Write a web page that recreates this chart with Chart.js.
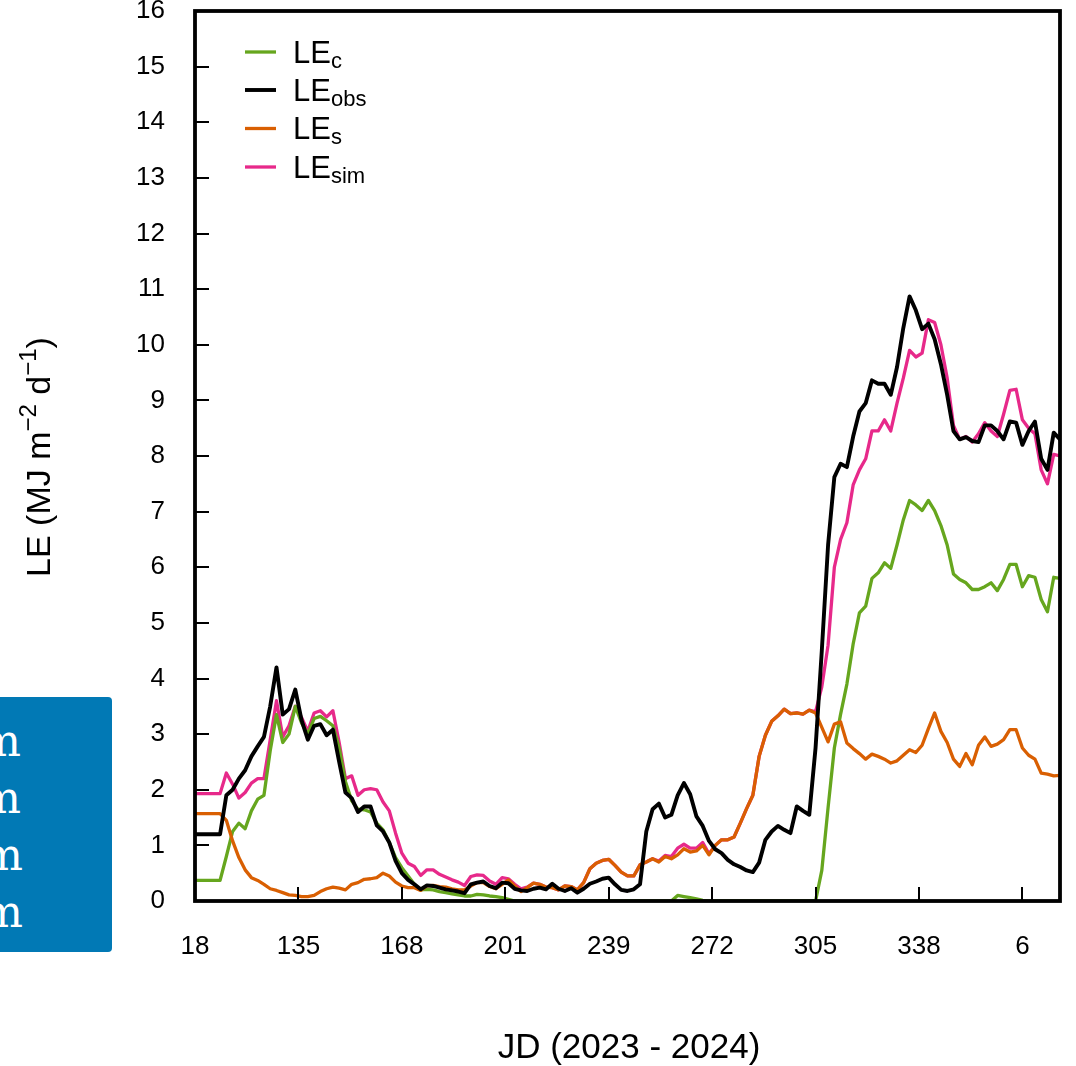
<!DOCTYPE html>
<html>
<head>
<meta charset="utf-8">
<title>LE partitioning</title>
<script src="https://cdn.jsdelivr.net/npm/chart.js@4.4.1/dist/chart.umd.min.js"></script>
<style>
  html, body { margin: 0; padding: 0; background: #fff; overflow: hidden; }
  #wrap { position: relative; width: 1076px; height: 1066px; }
  #c { position: absolute; left: 0; top: 0; }
  #note {
    position: absolute; left: 0; top: 697px; width: 112px; height: 255px;
    background: #0179b5; border-radius: 0 4px 4px 0; overflow: hidden;
    font-family: "DejaVu Serif", serif; font-size: 44px; color: #fff;
  }
  #note div { position: absolute; text-align: right; white-space: nowrap; line-height: 44px; }
</style>
</head>
<body>
<div id="wrap">
  <canvas id="c" width="1076" height="1066"></canvas>
  <div id="note">
    <div style="left:-300px;width:321px;top:22px">m</div>
    <div style="left:-300px;width:321px;top:79px">m</div>
    <div style="left:-300px;width:323px;top:136px">m</div>
    <div style="left:-300px;width:323px;top:193px">m</div>
  </div>
</div>
<script>
// Sampling step of the daily series (days between consecutive values)
const STEP_DAYS = 2;

// x-axis tick positions (days since start) and their JD labels
const jdTickDays = [0, 33, 66, 99, 132, 165, 198, 231, 264];
const jdTickLabels = ['18', '135', '168', '201', '239', '272', '305', '338', '6'];
const yTickValues = [0, 1, 2, 3, 4, 5, 6, 7, 8, 9, 10, 11, 12, 13, 14, 15, 16];

// Legend text: "LE" with a subscript per series
const seriesSubs = ['c', 'obs', 's', 'sim'];

// Canopy transpiration LEc (MJ m-2 d-1)
const leC = [
  0.37, 0.37, 0.37, 0.37, 0.37,
  0.8, 1.25, 1.4, 1.3, 1.62,
  1.83, 1.9, 2.7, 3.35, 2.85,
  3.0, 3.5, 3.2, 3.0, 3.28,
  3.32, 3.24, 3.15, 2.75, 2.15,
  1.8, 1.65, 1.64, 1.6, 1.4,
  1.28, 1.05, 0.78, 0.6, 0.45,
  0.3, 0.2, 0.21, 0.2, 0.17,
  0.15, 0.13, 0.11, 0.09, 0.09,
  0.12, 0.11, 0.09, 0.08, 0.06,
  0.03, 0, 0, 0, 0,
  0, 0, 0, 0, 0,
  0, 0, 0, 0, 0,
  0, 0, 0, 0, 0,
  0, 0, 0, 0, 0,
  0, 0, 0.1, 0.08, 0.06,
  0.04, 0.01, 0, 0, 0,
  0, 0, 0, 0, 0,
  0, 0, 0, 0, 0,
  0, 0, 0, 0, 0,
  0.55, 1.68, 2.75, 3.36, 3.9,
  4.62, 5.18, 5.3, 5.8, 5.9,
  6.08, 5.98, 6.4, 6.85, 7.2,
  7.12, 7.02, 7.2, 7.02, 6.75,
  6.4, 5.88, 5.78, 5.72, 5.6,
  5.6, 5.65, 5.72, 5.58, 5.78,
  6.05, 6.05, 5.65, 5.85, 5.82,
  5.42, 5.2, 5.82, 5.8
];

// Observed latent heat flux LEobs
const leObs = [
  1.2, 1.2, 1.2, 1.2, 1.2,
  1.9, 2.0, 2.2, 2.35, 2.6,
  2.78, 2.95, 3.5, 4.2, 3.35,
  3.45, 3.8, 3.25, 2.9, 3.15,
  3.18, 2.98, 3.08, 2.5, 1.95,
  1.85, 1.6, 1.7, 1.7, 1.36,
  1.25, 1.05, 0.72, 0.5, 0.38,
  0.3, 0.21, 0.28, 0.27, 0.24,
  0.21, 0.19, 0.17, 0.14, 0.3,
  0.33, 0.35, 0.27, 0.23, 0.33,
  0.32, 0.22, 0.19, 0.18, 0.22,
  0.24, 0.21, 0.31, 0.22, 0.18,
  0.23, 0.15, 0.22, 0.31, 0.35,
  0.4, 0.42, 0.3, 0.2, 0.18,
  0.21, 0.3, 1.25, 1.65, 1.75,
  1.5, 1.55, 1.9, 2.12, 1.92,
  1.52, 1.35, 1.08, 0.93, 0.86,
  0.74, 0.66, 0.61, 0.55, 0.52,
  0.69, 1.1, 1.25, 1.35, 1.28,
  1.22, 1.7, 1.62, 1.55, 2.75,
  4.5, 6.4, 7.62, 7.86, 7.8,
  8.35, 8.8, 8.95, 9.36, 9.3,
  9.3, 9.1, 9.6, 10.3, 10.87,
  10.62, 10.28, 10.38, 10.1, 9.65,
  9.1, 8.45, 8.3, 8.34, 8.27,
  8.25, 8.55, 8.55, 8.45, 8.3,
  8.62, 8.6, 8.2, 8.45, 8.62,
  7.95, 7.75, 8.42, 8.3
];

// Soil evaporation LEs
const leS = [
  1.57, 1.57, 1.57, 1.57, 1.57,
  1.45, 1.08, 0.78, 0.56, 0.42,
  0.37, 0.3, 0.22, 0.19, 0.15,
  0.11, 0.1, 0.08, 0.08, 0.1,
  0.17, 0.22, 0.25, 0.23, 0.2,
  0.3, 0.33, 0.39, 0.4, 0.42,
  0.5, 0.45, 0.34, 0.27, 0.24,
  0.24, 0.19, 0.27, 0.28, 0.26,
  0.25, 0.22, 0.2, 0.2, 0.27,
  0.33, 0.33, 0.26, 0.22, 0.3,
  0.38, 0.27, 0.17, 0.24, 0.32,
  0.3, 0.25, 0.24, 0.2, 0.27,
  0.26, 0.2, 0.33, 0.58, 0.68,
  0.73, 0.75, 0.64, 0.52, 0.45,
  0.45, 0.65, 0.7, 0.76, 0.7,
  0.8, 0.76, 0.83, 0.94, 0.88,
  0.9, 1.0, 0.83, 1.0, 1.1,
  1.1, 1.15, 1.4, 1.66, 1.9,
  2.6, 2.98, 3.23, 3.33, 3.45,
  3.37, 3.38, 3.36, 3.43, 3.38,
  3.12, 2.86, 3.18, 3.22, 2.84,
  2.74, 2.65, 2.55, 2.64, 2.6,
  2.55, 2.48, 2.52, 2.62, 2.72,
  2.67, 2.8, 3.1, 3.38, 3.05,
  2.85, 2.55, 2.42, 2.65, 2.45,
  2.8, 2.95, 2.78, 2.82, 2.9,
  3.08, 3.08, 2.75, 2.62, 2.55,
  2.3, 2.28, 2.25, 2.26
];

// Simulated total latent heat flux LEsim
const leSim = [
  1.93, 1.93, 1.93, 1.93, 1.93,
  2.3, 2.1, 1.85, 1.95, 2.12,
  2.2, 2.2, 2.9, 3.6, 2.95,
  3.15, 3.5, 3.3, 3.05, 3.38,
  3.42, 3.31, 3.42, 2.85, 2.2,
  2.25, 1.9, 2.0, 2.02, 2.0,
  1.78, 1.62, 1.22, 0.86, 0.68,
  0.62, 0.46, 0.56, 0.56, 0.48,
  0.43, 0.38, 0.34, 0.28, 0.44,
  0.47, 0.46, 0.36, 0.3, 0.42,
  0.4, 0.3, 0.22, 0.25, 0.32,
  0.3, 0.25, 0.24, 0.2, 0.27,
  0.26, 0.2, 0.33, 0.58, 0.68,
  0.73, 0.75, 0.64, 0.52, 0.45,
  0.45, 0.65, 0.7, 0.76, 0.72,
  0.82, 0.8, 0.95, 1.02, 0.95,
  0.95, 1.05, 0.85, 1.0, 1.1,
  1.1, 1.15, 1.4, 1.66, 1.9,
  2.6, 2.98, 3.23, 3.33, 3.45,
  3.37, 3.38, 3.36, 3.43, 3.4,
  3.85, 4.6, 6.0, 6.5, 6.8,
  7.48, 7.75, 7.95, 8.45, 8.45,
  8.65, 8.45, 8.95, 9.4, 9.9,
  9.78, 9.85, 10.45, 10.4, 10.0,
  9.4, 8.55, 8.3, 8.35, 8.25,
  8.4, 8.6, 8.45, 8.35, 8.75,
  9.18, 9.2, 8.65, 8.5, 8.4,
  7.75, 7.5, 8.03, 8.0
];

const FONT = '"Liberation Sans", Arial, Helvetica, sans-serif';
const COL_C = '#66A61E', COL_OBS = '#000000', COL_S = '#D95F02', COL_SIM = '#E7298A';

function toPoints(values) {
  return values.map((v, i) => ({ x: i * STEP_DAYS, y: v }));
}

function lineSet(label, values, color, width, order) {
  return {
    label, data: toPoints(values), borderColor: color, backgroundColor: color,
    borderWidth: width, pointRadius: 0, tension: 0, fill: false, order,
    borderJoinStyle: 'round', borderCapStyle: 'round'
  };
}

// Box frame with inward tick marks, drawn over the series
const framePlugin = {
  id: 'frame',
  afterDatasetsDraw(chart) {
    const { ctx, chartArea: a, scales } = chart;
    ctx.save();
    ctx.strokeStyle = '#000';
    ctx.lineWidth = 2;
    ctx.lineCap = 'butt';
    yTickValues.forEach(v => {
      const y = Math.round(scales.y.getPixelForValue(v));
      ctx.beginPath(); ctx.moveTo(a.left, y); ctx.lineTo(a.left + 14, y); ctx.stroke();
    });
    jdTickDays.forEach(d => {
      const x = Math.round(scales.x.getPixelForValue(d));
      ctx.beginPath(); ctx.moveTo(x, a.bottom); ctx.lineTo(x, a.bottom - 14); ctx.stroke();
    });
    ctx.lineWidth = 3.8;
    ctx.lineJoin = 'miter';
    ctx.strokeRect(a.left, a.top, a.right - a.left, a.bottom - a.top);
    ctx.restore();
  }
};

// Axis titles and legend with sub/superscripts
const textPlugin = {
  id: 'texts',
  afterDraw(chart) {
    const { ctx } = chart;
    ctx.save();
    ctx.fillStyle = '#000';

    // x-axis title
    ctx.font = '35px ' + FONT;
    ctx.textAlign = 'center';
    ctx.textBaseline = 'alphabetic';
    ctx.fillText('JD (2023 - 2024)', 629, 1058);

    // y-axis title, rotated
    const parts = [
      { t: 'LE (MJ m', size: 34, dy: 0 },
      { t: '\u22122', size: 24, dy: -14 },
      { t: ' d', size: 34, dy: 0 },
      { t: '\u22121', size: 24, dy: -14 },
      { t: ')', size: 34, dy: 0 }
    ];
    let total = 0;
    parts.forEach(p => { ctx.font = p.size + 'px ' + FONT; p.w = ctx.measureText(p.t).width; total += p.w; });
    ctx.translate(50, 457);
    ctx.rotate(-Math.PI / 2);
    ctx.textAlign = 'left';
    let x = -total / 2;
    parts.forEach(p => {
      ctx.font = p.size + 'px ' + FONT;
      ctx.fillText(p.t, x, p.dy);
      x += p.w;
    });
    ctx.setTransform(1, 0, 0, 1, 0, 0);

    // legend
    const rows = [52, 90, 128.5, 167];
    chart.data.datasets.forEach((ds, i) => {
      const y = rows[i];
      ctx.strokeStyle = ds.borderColor;
      ctx.lineWidth = ds.borderWidth;
      ctx.lineCap = 'butt';
      ctx.beginPath(); ctx.moveTo(245, y); ctx.lineTo(276, y); ctx.stroke();
      ctx.font = '31px ' + FONT;
      ctx.textAlign = 'left';
      ctx.fillText('LE', 293, y + 10.5);
      const w = ctx.measureText('LE').width;
      ctx.font = '22px ' + FONT;
      ctx.fillText(seriesSubs[i], 293 + w, y + 15.5);
    });
    ctx.restore();
  }
};

new Chart(document.getElementById('c'), {
  type: 'line',
  data: {
    datasets: [
      lineSet('LEc', leC, COL_C, 3.3, 2),
      lineSet('LEobs', leObs, COL_OBS, 3.9, 0),
      lineSet('LEs', leS, COL_S, 3.3, 1),
      lineSet('LEsim', leSim, COL_SIM, 3.3, 3)
    ]
  },
  options: {
    responsive: false,
    animation: false,
    devicePixelRatio: 1,
    layout: { padding: { left: 0, top: 11, right: 16, bottom: 0 } },
    plugins: { legend: { display: false }, tooltip: { enabled: false } },
    scales: {
      x: {
        type: 'linear', min: 0, max: 276,
        grid: { display: false, drawTicks: false },
        border: { display: false },
        afterBuildTicks(scale) { scale.ticks = jdTickDays.map(v => ({ value: v })); },
        afterFit(scale) { scale.height = 165; scale.paddingLeft = 0; scale.paddingRight = 0; },
        ticks: {
          padding: 30, color: '#000', maxRotation: 0, autoSkip: false,
          font: { family: FONT, size: 26 },
          callback: (v) => jdTickLabels[jdTickDays.indexOf(v)]
        }
      },
      y: {
        type: 'linear', min: 0, max: 16,
        grid: { display: false, drawTicks: false },
        border: { display: false },
        afterBuildTicks(scale) { scale.ticks = yTickValues.map(v => ({ value: v })); },
        afterFit(scale) { scale.width = 195; scale.paddingTop = 0; scale.paddingBottom = 0; },
        ticks: {
          padding: 30, color: '#000', autoSkip: false,
          font: { family: FONT, size: 26 }
        }
      }
    }
  },
  plugins: [framePlugin, textPlugin]
});
</script>
</body>
</html>
